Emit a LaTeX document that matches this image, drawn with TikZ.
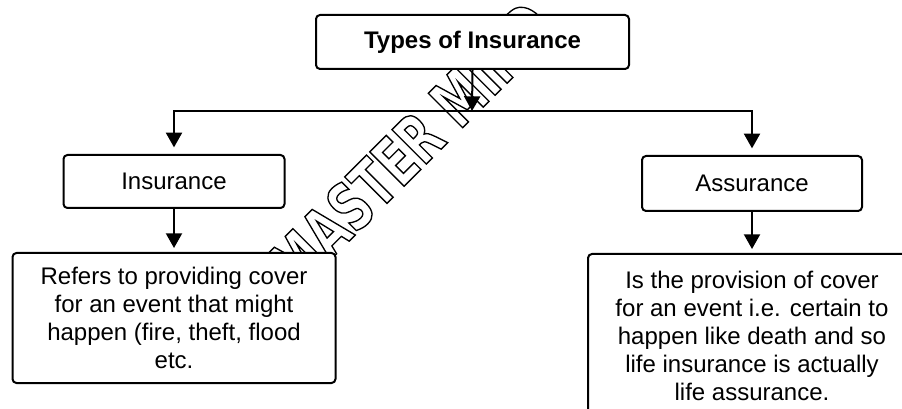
\documentclass[tikz,border=0pt]{standalone}
\usepackage{fontspec}
\setmainfont{Liberation Sans}
\newfontfamily\markfont{DejaVu Sans}[FakeStretch=0.69]
\usetikzlibrary{arrows.meta}

\begin{document}
\begin{tikzpicture}[x=0.75pt, y=-0.75pt,
    every node/.style={font=\fontsize{18}{21}\selectfont},
    box/.style={draw, line width=1.5pt, rounded corners=3pt, fill=white, align=center, inner sep=0pt},
    arr/.style={line width=1.5pt, -{Triangle[length=11pt,width=12pt]}}]
   \useasboundingbox (0,0) rectangle (902,409);
   \clip (0,0) rectangle (902,409);

   % watermark, outlined letters
   \node[rotate=45, inner sep=0pt] (mark) at (411,145)
      {\markfont\bfseries\fontsize{50}{50}\selectfont\special{pdf:code q 1 Tr 1 w}MASTER MIND\special{pdf:code Q}};

   % boxes
   \node[box, minimum width=234.75pt, minimum height=40.5pt] (types) at (472.5,42) {\bfseries Types of Insurance};
   \node[box, minimum width=165.75pt, minimum height=39.75pt] (ins) at (174,181.5) {Insurance};
   \node[box, minimum width=165pt, minimum height=41.25pt] (ass) at (752,183.5) {Assurance};
   \node[box, minimum width=242.25pt, minimum height=97.5pt] (insdesc) at (174,318)
      {Refers to providing cover\\for an event that might\\happen (fire, theft, flood\\etc.};
   \node[box, minimum width=246pt, minimum height=123pt] (assdesc) at (752,336)
      {Is the provision of cover\\for an event i.e. certain to\\happen like death and so\\life insurance is actually\\life assurance.};

   % connectors
   \coordinate (bus) at (472,111);
   \draw[arr] (types.south) -- (bus);
   \draw[arr, shorten >=5pt] (bus) -| (ins.north);
   \draw[arr, shorten >=5pt] (bus) -| (ass.north);
   \draw[arr, shorten >=3pt] (ins.south) -- (insdesc.north);
   \draw[arr, shorten >=3pt] (ass.south) -- (assdesc.north);
\end{tikzpicture}
\end{document}
